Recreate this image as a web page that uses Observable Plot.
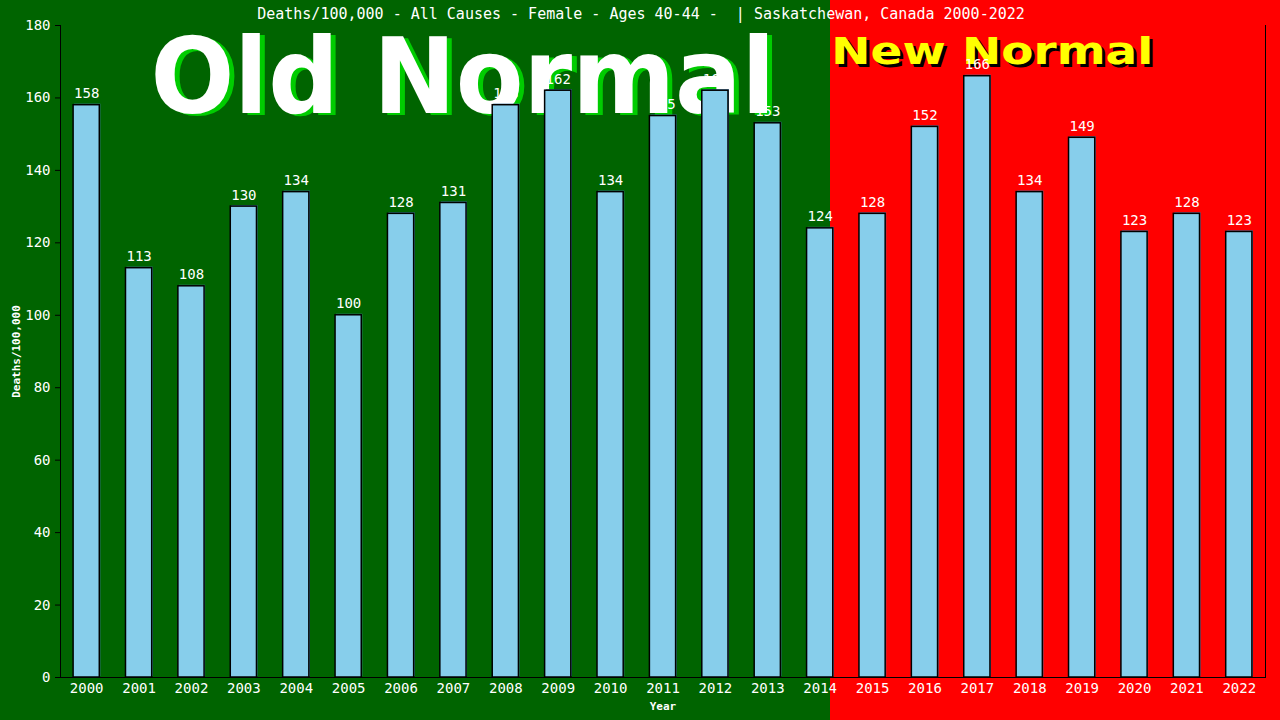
<!DOCTYPE html>
<html><head><meta charset="utf-8">
<script src="https://cdn.jsdelivr.net/npm/d3@7"></script>
<script src="https://cdn.jsdelivr.net/npm/@observablehq/plot@0.6"></script>
<style>
html,body{margin:0;padding:0;background:#006400;overflow:hidden;}
#chart svg{display:block;}
#chart g[aria-label="y-axis label"] text,#chart g[aria-label="x-axis label"] text{font-size:11px;font-weight:bold;}
</style></head><body><div id="chart"></div>
<script>
const years = ["2000","2001","2002","2003","2004","2005","2006","2007","2008","2009","2010","2011","2012","2013","2014","2015","2016","2017","2018","2019","2020","2021","2022"];
const deaths = [158,113,108,130,134,100,128,131,158,162,134,155,162,153,124,128,152,166,134,149,123,128,123];
const yTicks = [0,20,40,60,80,100,120,140,160,180];
const title = "Deaths/100,000 - All Causes - Female - Ages 40-44 -  | Saskatchewan, Canada 2000-2022";
const xLabel = "Year";
const yLabel = "Deaths/100,000";
const eraLabels = ["Old Normal","New Normal"];
const eraYears = ["2007","2017"];
const eraValues = [155.9,169.5];

const data = years.map((year,i)=>({year, value:deaths[i]}));
const oldEra = [{label:eraLabels[0], year:eraYears[0], value:eraValues[0]}];
const newEra = [{label:eraLabels[1], year:eraYears[1], value:eraValues[1]}];
const mono = "'DejaVu Sans Mono', monospace";
const sans = "'DejaVu Sans', sans-serif";

const plot = Plot.plot({
  width:1280, height:720,
  marginLeft:60, marginRight:15, marginTop:25, marginBottom:43,
  style:{fontFamily:mono, fontSize:"14px", color:"white", background:"linear-gradient(to right,#006400 0px,#006400 830px,#ff0000 830px,#ff0000 100%)", overflow:"visible"},
  x:{domain:years, paddingInner:0.5, paddingOuter:0.25, round:false, axis:null},
  y:{domain:[0,180], axis:null},
  marks:[
    Plot.text(oldEra,{x:"year",y:"value",text:"label",fill:"#00cc00",fontFamily:sans,fontWeight:"bold",fontSize:105,lineAnchor:"bottom",dx:14.5,dy:2,className:"era-old"}),
    Plot.text(oldEra,{x:"year",y:"value",text:"label",fill:"white",fontFamily:sans,fontWeight:"bold",fontSize:105,lineAnchor:"bottom",dx:9.5,className:"era-old"}),
    Plot.text(newEra,{x:"year",y:"value",text:"label",fill:"black",fontFamily:sans,fontWeight:"bold",fontSize:38,lineAnchor:"bottom",dx:18,dy:3,className:"era-new"}),
    Plot.text(newEra,{x:"year",y:"value",text:"label",fill:"#ffff00",fontFamily:sans,fontWeight:"bold",fontSize:38,lineAnchor:"bottom",dx:15,className:"era-new"}),
    Plot.barY(data,{x:"year",y:"value",fill:"#4682b4",dx:1,dy:-1}),
    Plot.barY(data,{x:"year",y:"value",fill:"#87ceeb",stroke:"black",strokeWidth:1.5}),
    Plot.text(data,{x:"year",y:"value",text:d=>String(d.value),fill:"white",fontSize:14,lineAnchor:"bottom",dy:-7}),
    Plot.text([title],{frameAnchor:"top",text:d=>d,fill:"white",fontSize:15,lineAnchor:"bottom",dx:-22,dy:-7}),
    Plot.axisX({tickSize:0,tickPadding:6,fill:"white",fontSize:14,label:xLabel,labelAnchor:"center",labelOffset:32,labelArrow:"none"}),
    Plot.axisY({ticks:yTicks,tickSize:5,tickPadding:5,stroke:"black",fill:"white",fontSize:14,label:yLabel,labelAnchor:"center",labelOffset:48,labelArrow:"none"}),
    Plot.frame({anchor:"left",stroke:"black"}),
    Plot.frame({anchor:"bottom",stroke:"black"}),
    Plot.frame({anchor:"right",stroke:"black"})
  ]
});
d3.select(plot).selectAll("g.era-old text").attr("textLength",625).attr("lengthAdjust","spacingAndGlyphs");
d3.select(plot).selectAll("g.era-new text").attr("textLength",322).attr("lengthAdjust","spacingAndGlyphs");
document.getElementById("chart").appendChild(plot);
</script></body></html>
